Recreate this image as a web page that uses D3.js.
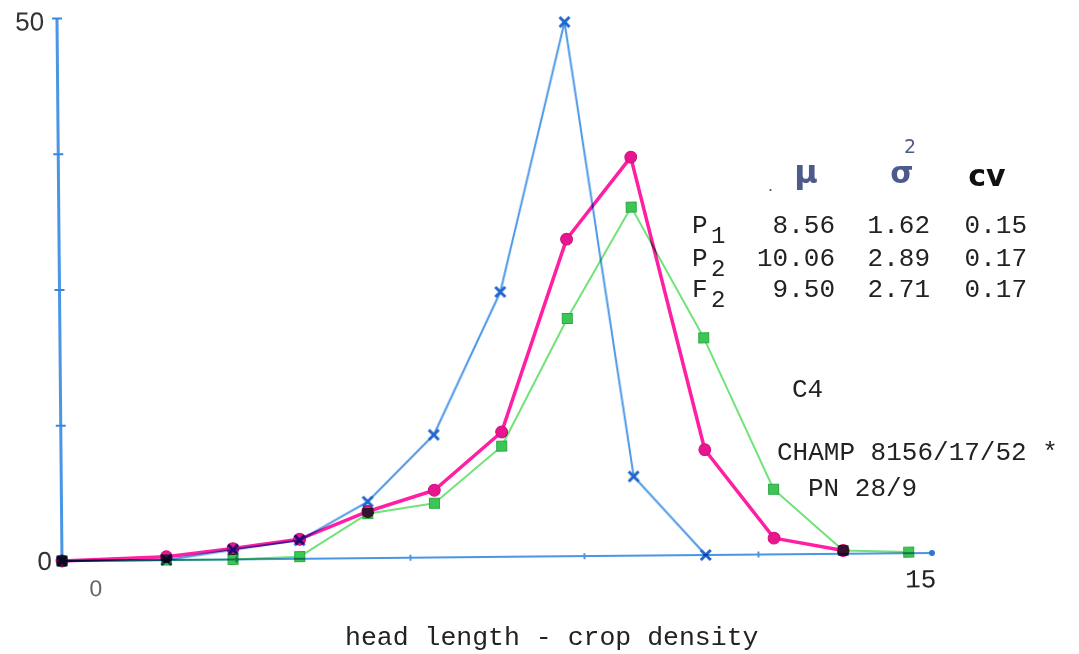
<!DOCTYPE html>
<html>
<head>
<meta charset="utf-8">
<script src="https://cdn.jsdelivr.net/npm/d3@7/dist/d3.min.js"></script>
<style>
  html, body { margin: 0; padding: 0; background: #ffffff; }
  svg { display: block; }
  .mono { font-family: "Liberation Mono", "DejaVu Sans Mono", monospace; fill: #222; }
</style>
</head>
<body>
<svg id="chart" width="1079" height="654"></svg>
<script>
// ---- data ----
const xPositions = [0, 1.8, 2.95, 4.1, 5.28, 6.43, 7.6, 8.75, 9.87, 11.1, 12.28, 13.47, 14.6];
const p1Values = [0, 0, 0.9, 1.7, 5.2, 11.3, 24.4, 49.2, 7.3, 0];
const p2Values = [0, 0.3, 1.0, 1.8, 4.3, 6.2, 11.5, 29.2, 36.7, 9.7, 1.5, 0.3];
const f2Values = [0, 0, 0, 0.2, 4.1, 5.0, 10.2, 21.9, 32.1, 20.0, 6.0, 0.3, 0.1];
const yTicks = [0, 12.5, 25, 37.5, 50];
const yTickLabels = {0: "0", 50: "50"};
const xTicks = [0, 3, 6, 9, 12, 15];
const xTickLabels = {0: "0", 15: "15"};
const tableRows = ["P", "P", "F"];
const tableSubs = ["1", "2", "2"];
const tableMu = ["8.56", "10.06", "9.50"];
const tableVar = ["1.62", "2.89", "2.71"];
const tableCv = ["0.15", "0.17", "0.17"];
const axisTitle = "head length - crop density";
const notes = ["C4", "CHAMP 8156/17/52 *", "PN 28/9"];

const svg = d3.select("#chart");
const ox = 62, oy = 561;

const x = d3.scaleLinear().domain([0, 15]).range([ox, 932]);
const y = d3.scaleLinear().domain([0, 50]).range([oy, 18]);

// the scanned page is slightly rotated
const plot = svg.append("g").attr("transform", `rotate(-0.53, ${ox}, ${oy})`);

const axisBlue = "#4a96e4";

// x axis
const xAxis = plot.append("g")
  .attr("transform", `translate(0, ${oy})`)
  .call(d3.axisBottom(x).tickValues(xTicks).tickSize(4).tickPadding(20)
    .tickFormat(d => xTickLabels[d] || ""));
xAxis.select(".domain").attr("stroke", axisBlue).attr("stroke-width", 2).attr("d", `M${ox},0H${x(15)}`);
xAxis.selectAll(".tick line").attr("stroke", axisBlue).attr("stroke-width", 2).attr("y1", -3).attr("y2", 3)
  .attr("opacity", d => (d === 0 || d === 15) ? 0 : 1);
xAxis.selectAll(".tick text")
  .attr("font-family", d => d === 0 ? "Liberation Sans, Arial, sans-serif" : "Liberation Mono, monospace")
  .attr("font-size", d => d === 0 ? 23 : 26)
  .attr("fill", d => d === 0 ? "#666" : "#222")
  .attr("dx", d => d === 0 ? 33 : -12)
  .attr("dy", d => d === 0 ? "0.5em" : "0.4em");
plot.append("circle").attr("cx", x(15)).attr("cy", y(0)).attr("r", 3).attr("fill", "#2f74d6");

// y axis
const yAxis = plot.append("g")
  .attr("transform", `translate(${ox}, 0)`)
  .call(d3.axisLeft(y).tickValues(yTicks).tickSize(5).tickPadding(5)
    .tickFormat(d => yTickLabels[d] || ""));
yAxis.select(".domain").attr("stroke", axisBlue).attr("stroke-width", 3).attr("d", `M0,${y(0)}V${y(50)}`);
yAxis.selectAll(".tick line").attr("stroke", "#3a86dc").attr("stroke-width", 2).attr("x1", -5).attr("x2", 5)
  .attr("opacity", d => d === 0 ? 0 : 1);
yAxis.selectAll(".tick text")
  .attr("font-family", "Liberation Sans, Arial, sans-serif")
  .attr("font-size", 26).attr("fill", "#333")
  .attr("dx", d => d === 50 ? -3 : 0)
  .attr("dy", d => d === 50 ? "0.45em" : "0.32em");

const line = d3.line().x((d, i) => x(xPositions[i])).y(d => y(d));

function series(values, color, width, markerFn) {
  const g = plot.append("g").style("mix-blend-mode", "multiply");
  g.append("path").datum(values).attr("d", line)
    .attr("fill", "none").attr("stroke", color).attr("stroke-width", width)
    .attr("stroke-linejoin", "round");
  const m = g.selectAll("g.m").data(values).enter().append("g")
    .attr("transform", (d, i) => `translate(${x(xPositions[i])}, ${y(d)})`);
  markerFn(m);
}

// F2 green squares
series(f2Values, "#72e27a", 2, m => {
  m.append("rect").attr("x", -5).attr("y", -5).attr("width", 10).attr("height", 10)
    .attr("fill", "#3cc653").attr("stroke", "#2aa844").attr("stroke-width", 1);
});
// P2 magenta dots
series(p2Values, "#ff1fa2", 3.5, m => {
  m.append("path").attr("d", d3.symbol().type(d3.symbolCircle).size(110))
    .attr("fill", "#e8168e").attr("stroke", "#d11080").attr("stroke-width", 1);
});
// P1 blue crosses
series(p1Values, "#4c98e6", 2, m => {
  m.append("path").attr("d", "M-5,-5L5,5M-5,5L5,-5")
    .attr("stroke", "#2266cc").attr("stroke-width", 3).attr("fill", "none");
});

// statistics table
const colRight = [835, 930, 1027];
const rowBase = [233, 266, 297];
const tbl = svg.append("g");
tableRows.forEach((r, i) => {
  tbl.append("text").attr("class", "mono").attr("x", 692).attr("y", rowBase[i]).attr("font-size", 26).text(r);
  tbl.append("text").attr("class", "mono").attr("x", 711).attr("y", rowBase[i] + 10).attr("font-size", 24).text(tableSubs[i]);
  [tableMu, tableVar, tableCv].forEach((col, j) => {
    tbl.append("text").attr("class", "mono").attr("x", colRight[j]).attr("y", rowBase[i])
      .attr("text-anchor", "end").attr("font-size", 26).text(col[i]);
  });
});
// header
tbl.append("text").attr("x", 806).attr("y", 183).attr("text-anchor", "middle")
  .attr("font-family", "DejaVu Sans, sans-serif").attr("font-weight", "bold")
  .attr("font-size", 32).attr("fill", "#4d5a8c").text("μ");
tbl.append("text").attr("x", 902).attr("y", 183).attr("text-anchor", "middle")
  .attr("font-family", "DejaVu Sans, sans-serif").attr("font-weight", "bold")
  .attr("font-size", 30).attr("fill", "#4d5a8c").text("σ");
tbl.append("text").attr("x", 910).attr("y", 153).attr("text-anchor", "middle")
  .attr("font-family", "DejaVu Sans, sans-serif")
  .attr("font-size", 19).attr("fill", "#4d5a8c").text("2");
tbl.append("text").attr("x", 987).attr("y", 186).attr("text-anchor", "middle")
  .attr("font-family", "DejaVu Sans, sans-serif").attr("font-weight", "bold")
  .attr("font-size", 30).attr("fill", "#111").text("cv");
tbl.append("text").attr("x", 768).attr("y", 191).attr("font-size", 18).attr("fill", "#555")
  .attr("font-family", "Liberation Sans, sans-serif").text(".");

// notes
svg.append("text").attr("class", "mono").attr("x", 792).attr("y", 397).attr("font-size", 26).text(notes[0]);
svg.append("text").attr("class", "mono").attr("x", 777).attr("y", 460).attr("font-size", 26).text(notes[1]);
svg.append("text").attr("class", "mono").attr("x", 808).attr("y", 496).attr("font-size", 26).text(notes[2]);

// axis title
svg.append("text").attr("class", "mono").attr("x", 345).attr("y", 645).attr("font-size", 26.5).text(axisTitle);
</script>
</body>
</html>
